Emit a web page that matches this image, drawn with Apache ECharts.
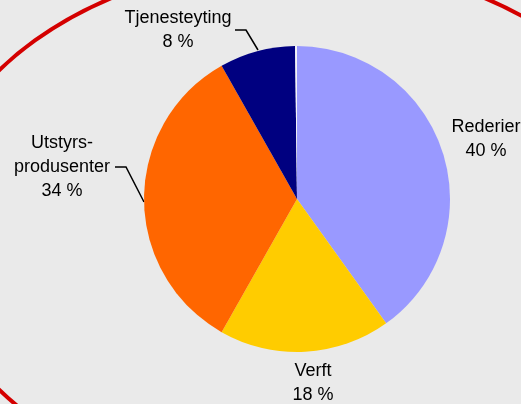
<!DOCTYPE html>
<html>
<head>
<meta charset="utf-8">
<script src="https://cdn.jsdelivr.net/npm/echarts@6/dist/echarts.min.js"></script>
<style>
  html, body { margin: 0; padding: 0; background: #eaeaea; }
  #chart { width: 521px; height: 404px; }
</style>
</head>
<body>
<div id="chart"></div>
<script>
// kategorier og andeler (prosent, vises avrundet)
var categories = ["Rederier", "Verft", "Utstyrs-\nprodusenter", "Tjenesteyting", ""];
var shares = [40.1, 18.1, 33.6, 8.0, 0.2];
var colors = ["#9999ff", "#ffcc00", "#ff6600", "#000080", "#f4f4f8"];

// plassering av etiketter (midtpunkt) og ledelinjer
var labelPos = [[486, 139], [313, 383], [62, 167], [178, 30], null];
var linePts = [null, null, [[144, 202], [126, 167], [115, 167]], [[258, 50], [246, 30], [235, 30]], null];

var chart = echarts.init(document.getElementById("chart"));

var data = categories.map(function (c, i) {
    var item = { name: c, value: shares[i], itemStyle: { color: colors[i] } };
    if (!linePts[i]) item.labelLine = { show: false };
    if (!labelPos[i]) item.label = { show: false };
    return item;
});

chart.setOption({
    backgroundColor: "#eaeaea",
    animation: false,
    graphic: [{
        type: "ellipse",
        z: -1,
        silent: true,
        shape: { cx: 298, cy: 230, rx: 372, ry: 268 },
        style: { fill: "none", stroke: "#d40000", lineWidth: 4 }
    }],
    series: [{
        type: "pie",
        center: [297, 199],
        radius: 153,
        startAngle: 90,
        clockwise: true,
        avoidLabelOverlap: false,
        emphasis: { disabled: true },
        itemStyle: { borderWidth: 0 },
        label: {
            show: true,
            position: "outside",
            color: "#000",
            fontFamily: "Liberation Sans, Arial, sans-serif",
            fontSize: 18,
            lineHeight: 24,
            formatter: function (p) { return p.name + "\n" + Math.round(p.value) + " %"; }
        },
        labelLine: { show: true, lineStyle: { color: "#000", width: 1.5 } },
        labelLayout: function (p) {
            var pos = labelPos[p.dataIndex];
            if (!pos) return {};
            var out = { x: pos[0], y: pos[1], align: "center", verticalAlign: "middle" };
            if (linePts[p.dataIndex]) out.labelLinePoints = linePts[p.dataIndex];
            return out;
        },
        data: data
    }]
});
</script>
</body>
</html>
